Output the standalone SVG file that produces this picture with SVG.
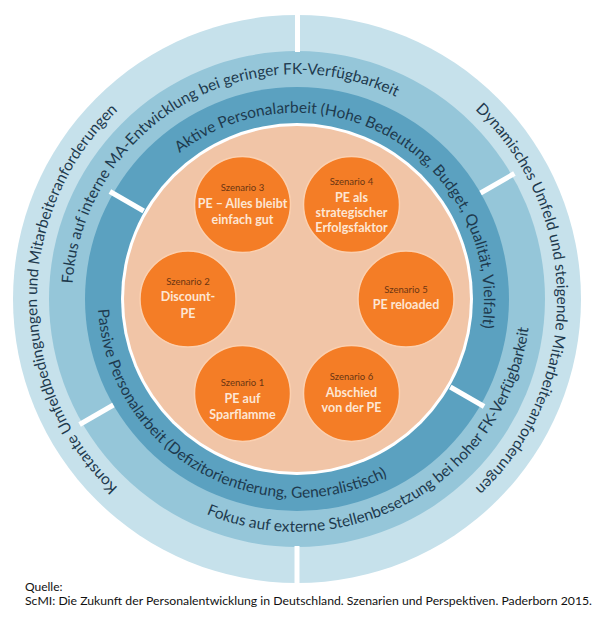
<svg xmlns="http://www.w3.org/2000/svg" width="600" height="619" viewBox="0 0 600 619">
<style>
.ring{font-family:Lato,"Liberation Sans",sans-serif;font-size:15.5px;fill:#1e3a4e}
.sz{font-family:Lato,"Liberation Sans",sans-serif;font-size:9.5px;fill:#6b3512;text-anchor:middle}
.pe{font-family:Lato,"Liberation Sans",sans-serif;font-size:12.5px;font-weight:bold;fill:#fde6d4;text-anchor:middle}
.node{fill:#f47d26;stroke:#fbd0b0;stroke-width:1.5}
.gap{stroke:#ffffff;stroke-width:5}
.src{font-family:Lato,"Liberation Sans",sans-serif;font-size:12px;fill:#111111}
</style>
<defs>
<path id="pOutL" d="M 297 559 A 260 260 0 0 1 297 39"/>
<path id="pOutR" d="M 297 39 A 260 260 0 0 1 297 559"/>
<path id="pMidUL" d="M 102.14 411.5 A 225 225 0 0 1 491.86 186.5"/>
<path id="pMidLR" d="M 93.5 416.5 A 235 235 0 0 0 500.5 181.5"/>
<path id="pInUR" d="M 134.2 205 A 188 188 0 0 1 459.8 393"/>
<path id="pInLL" d="M 123.8 199 A 200 200 0 0 0 470.2 399"/>
</defs>
<rect width="600" height="619" fill="#ffffff"/>
<g id="ring-outer">
<circle cx="297" cy="299" r="284" fill="#c6e1eb"/>
</g>
<g id="ring-middle">
<circle cx="297" cy="299" r="248" fill="#95c6d9"/>
</g>
<g id="ring-inner">
<circle cx="297" cy="299" r="212" fill="#5ba1c0"/>
</g>
<g id="core">
<circle cx="297" cy="299" r="176" fill="#ffffff"/>
<circle cx="297" cy="299" r="173" fill="#f1c5a7"/>
</g>
<g id="separators">
<line class="gap" x1="297.5" y1="12" x2="297.5" y2="52"/>
<line class="gap" x1="297" y1="546" x2="297" y2="586"/>
<line class="gap" x1="480.6" y1="193" x2="514.4" y2="173.5"/>
<line class="gap" x1="113.4" y1="405" x2="79.6" y2="424.5"/>
<line class="gap" x1="450.3" y1="387" x2="484.1" y2="406.5"/>
<line class="gap" x1="143.7" y1="211" x2="109.9" y2="191.5"/>
</g>
<g id="ring-texts">
<text class="ring"><textPath href="#pOutL" startOffset="50%" text-anchor="middle">Konstante Umfeldbedingungen und Mitarbeiteranforderungen</textPath></text>
<text class="ring"><textPath href="#pOutR" startOffset="50%" text-anchor="middle">Dynamisches Umfeld und steigende Mitarbeiteranforderungen</textPath></text>
<text class="ring"><textPath href="#pMidUL" startOffset="50%" text-anchor="middle">Fokus auf interne MA-Entwicklung bei geringer FK-Verfügbarkeit</textPath></text>
<text class="ring"><textPath href="#pMidLR" startOffset="50%" text-anchor="middle">Fokus auf externe Stellenbesetzung bei hoher FK-Verfügbarkeit</textPath></text>
<text class="ring"><textPath href="#pInUR" startOffset="50%" text-anchor="middle">Aktive Personalarbeit (Hohe Bedeutung, Budget, Qualität, Vielfalt)</textPath></text>
<text class="ring"><textPath href="#pInLL" startOffset="50%" text-anchor="middle">Passive Personalarbeit (Defizitorientierung, Generalistisch)</textPath></text>
</g>
<g id="connectors"></g>
<g id="szenario3">
<circle class="node" cx="242.5" cy="204.6" r="48"/>
<text class="sz" x="242.5" y="191">Szenario 3</text>
<text class="pe" x="242.5" y="208">PE – Alles bleibt</text>
<text class="pe" x="242.5" y="224">einfach gut</text>
</g>
<g id="szenario4">
<circle class="node" cx="351.5" cy="204.6" r="48"/>
<text class="sz" x="351.5" y="185">Szenario 4</text>
<text class="pe" x="351.5" y="202">PE als</text>
<text class="pe" x="351.5" y="217">strategischer</text>
<text class="pe" x="351.5" y="232">Erfolgsfaktor</text>
</g>
<g id="szenario2">
<circle class="node" cx="188" cy="299" r="48"/>
<text class="sz" x="188" y="285">Szenario 2</text>
<text class="pe" x="188" y="301">Discount-</text>
<text class="pe" x="188" y="318">PE</text>
</g>
<g id="szenario5">
<circle class="node" cx="406" cy="299" r="48"/>
<text class="sz" x="406" y="293">Szenario 5</text>
<text class="pe" x="406" y="309">PE reloaded</text>
</g>
<g id="szenario1">
<circle class="node" cx="242.5" cy="393.4" r="48"/>
<text class="sz" x="242.5" y="386">Szenario 1</text>
<text class="pe" x="242.5" y="403">PE auf</text>
<text class="pe" x="242.5" y="419">Sparflamme</text>
</g>
<g id="szenario6">
<circle class="node" cx="351.5" cy="393.4" r="48"/>
<text class="sz" x="351.5" y="380">Szenario 6</text>
<text class="pe" x="351.5" y="397">Abschied</text>
<text class="pe" x="351.5" y="412">von der PE</text>
</g>
<g id="source">
<text class="src" x="25" y="591">Quelle:</text>
<text class="src" x="25" y="605" textLength="567" lengthAdjust="spacingAndGlyphs">ScMI: Die Zukunft der Personalentwicklung in Deutschland. Szenarien und Perspektiven. Paderborn 2015.</text>
</g>
</svg>
